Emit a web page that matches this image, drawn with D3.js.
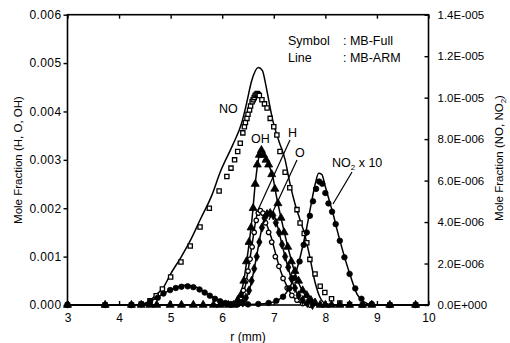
<!DOCTYPE html>
<html><head><meta charset="utf-8">
<script src="https://cdn.jsdelivr.net/npm/d3@7"></script>
<style>
body{margin:0;background:#fff}
svg text{font-family:Arial,"Liberation Sans",sans-serif;fill:#000}
</style>
</head><body>
<svg id="chart" width="510" height="343"></svg>
<script>
// ---- axes / ticks ----
const xTicks = [3,4,5,6,7,8,9,10];
const leftTicks = [0,0.001,0.002,0.003,0.004,0.005,0.006];
const leftTickLabels = ["0.000","0.001","0.002","0.003","0.004","0.005","0.006"];
const rightTicks = [0,2,4,6,8,10,12,14];            // in 1E-006 units
const rightTickLabels = ["0.0E+000","2.0E-006","4.0E-006","6.0E-006","8.0E-006","1.0E-005","1.2E-005","1.4E-005"];

// ---- MB-ARM lines ----  [r (mm), value]
// NO and NO2x10 in 1E-006 units (right axis); OH, H, O mole fraction (left axis)
const noLine = [[3,0],[4.4,0],[4.55,0.1],[4.7,0.45],[4.86,0.85],[5.0,1.5],[5.2,2.3],[5.4,3.2],[5.57,4.1],[5.8,5.3],[5.96,6.4],[6.2,7.7],[6.38,8.8],[6.47,9.7],[6.57,10.8],[6.7,11.45],[6.78,11.3],[6.83,10.8],[6.9,9.9],[6.98,8.9],[7.1,7.9],[7.22,7.0],[7.31,5.9],[7.42,4.8],[7.51,4.1],[7.61,3.3],[7.7,2.3],[7.8,1.1],[7.9,0.35],[8.0,0.08],[8.2,0],[10,0]];
const ohLine = [[3,0],[6.2,0],[6.3,0.0001],[6.4,0.0004],[6.5,0.0011],[6.58,0.0018],[6.64,0.0025],[6.7,0.003],[6.76,0.0032],[6.82,0.0031],[6.9,0.0029],[6.97,0.0027],[7.06,0.0022],[7.12,0.0019],[7.25,0.0013],[7.4,0.0007],[7.55,0.0003],[7.7,0.0001],[7.85,0],[10,0]];
const hLine = [[3,0],[6.25,0],[6.35,0.0001],[6.45,0.0004],[6.53,0.0009],[6.6,0.0014],[6.66,0.0018],[6.72,0.002],[6.78,0.0019],[6.85,0.0017],[6.95,0.0014],[7.05,0.001],[7.15,0.00065],[7.25,0.0004],[7.35,0.0002],[7.5,0.00006],[7.65,0],[10,0]];
const oLine = [[3,0],[6.35,0],[6.45,0.0001],[6.55,0.0004],[6.63,0.0008],[6.7,0.0012],[6.77,0.0016],[6.84,0.00185],[6.92,0.0019],[7.0,0.00185],[7.08,0.0016],[7.17,0.0012],[7.27,0.0008],[7.37,0.00045],[7.47,0.0002],[7.6,0.00005],[7.75,0],[10,0]];
const no2Line = [[3,0],[4.3,0],[4.5,0.08],[4.7,0.3],[4.9,0.6],[5.1,0.85],[5.28,0.95],[5.45,0.9],[5.6,0.72],[5.75,0.48],[5.9,0.25],[6.05,0.1],[6.2,0.04],[6.5,0.03],[6.8,0.06],[7.0,0.15],[7.15,0.35],[7.3,0.8],[7.42,1.5],[7.52,2.4],[7.62,3.5],[7.72,4.8],[7.8,5.8],[7.87,6.35],[7.93,6.3],[8.0,5.7],[8.08,5.0],[8.15,4.4],[8.23,3.6],[8.35,2.5],[8.5,1.3],[8.62,0.5],[8.75,0.15],[8.9,0.02],[9.1,0],[10,0]];

// ---- MB-Full symbols ----
const noSym = [[3.0,0],[3.73,0],[4.24,0],[4.43,0.05],[4.6,0.2],[4.72,0.45],[4.84,0.77],[5.0,1.35],[5.2,2.07],[5.38,2.85],[5.57,3.76],[5.75,4.67],[5.94,5.5],[6.09,6.2],[6.17,6.6],[6.24,7.0],[6.3,7.4],[6.35,7.8],[6.4,8.3],[6.43,8.6],[6.45,8.8],[6.48,9.0],[6.5,9.2],[6.53,9.4],[6.55,9.6],[6.58,9.8],[6.6,9.9],[6.62,10.0],[6.64,10.1],[6.66,10.15],[6.68,10.2],[6.7,10.15],[6.72,10.1],[6.77,9.9],[6.82,9.7],[6.87,9.5],[6.93,9.0],[7.0,8.6],[7.06,8.2],[7.12,7.4],[7.22,6.4],[7.31,5.65],[7.45,4.6],[7.51,3.95],[7.59,3.45],[7.64,3.0],[7.7,2.2],[7.8,1.5],[7.9,0.9],[7.99,0.6],[8.12,0.3],[8.28,0.1],[8.47,0.02],[8.72,0],[9.25,0],[9.75,0]];
const ohSym = [[3.0,0],[3.73,0],[4.24,0],[4.43,0],[4.6,0],[4.73,0],[4.99,0],[5.21,0],[5.44,0],[5.63,0],[5.83,0],[5.96,0],[6.12,0],[6.22,0],[6.3,0.0001],[6.36,0.0002],[6.42,0.0005],[6.47,0.0009],[6.52,0.0013],[6.56,0.0016],[6.6,0.002],[6.64,0.0025],[6.68,0.0029],[6.72,0.0031],[6.76,0.0032],[6.8,0.0031],[6.85,0.003],[6.9,0.0029],[6.96,0.0027],[7.02,0.0024],[7.08,0.0021],[7.14,0.0018],[7.2,0.0015],[7.27,0.0012],[7.34,0.0009],[7.41,0.0007],[7.48,0.0005],[7.56,0.0003],[7.64,0.0002],[7.72,0.0001],[7.8,0.00005],[7.9,0],[8.0,0],[8.12,0],[8.28,0],[8.47,0],[8.72,0],[8.9,0],[9.25,0],[9.75,0]];
const hSym = [[6.3,0.00005],[6.36,0.00015],[6.41,0.0003],[6.46,0.0005],[6.5,0.0007],[6.54,0.00095],[6.58,0.0012],[6.62,0.0015],[6.66,0.00175],[6.7,0.0019],[6.74,0.00195],[6.79,0.0019],[6.84,0.0017],[6.9,0.0015],[6.96,0.0013],[7.03,0.001],[7.1,0.0008],[7.18,0.00055],[7.26,0.00035],[7.35,0.0002],[7.45,0.0001],[7.56,0.00003],[7.7,0]];
const oSym = [[6.4,0.00005],[6.46,0.00015],[6.52,0.0003],[6.57,0.0005],[6.62,0.00075],[6.67,0.001],[6.72,0.0013],[6.77,0.0016],[6.82,0.0018],[6.87,0.00188],[6.93,0.0019],[6.99,0.00185],[7.04,0.0017],[7.1,0.0015],[7.16,0.00125],[7.22,0.001],[7.28,0.00078],[7.34,0.00055],[7.41,0.00035],[7.48,0.0002],[7.56,0.0001],[7.65,0.00004],[7.75,0]];
const no2Sym = [[3.0,0],[3.73,0],[4.24,0],[4.43,0.03],[4.6,0.15],[4.75,0.35],[4.86,0.55],[4.99,0.72],[5.1,0.82],[5.21,0.88],[5.33,0.9],[5.44,0.86],[5.56,0.75],[5.66,0.6],[5.76,0.45],[5.86,0.3],[5.96,0.18],[6.06,0.1],[6.17,0.05],[6.3,0.03],[6.5,0.03],[6.7,0.05],[6.9,0.1],[7.05,0.2],[7.18,0.4],[7.3,0.8],[7.4,1.3],[7.5,2.1],[7.58,2.9],[7.64,3.5],[7.7,4.3],[7.76,5.0],[7.82,5.6],[7.88,5.95],[7.94,5.85],[8.0,5.4],[8.06,4.9],[8.13,4.5],[8.2,3.9],[8.28,3.1],[8.37,2.3],[8.47,1.5],[8.58,0.8],[8.7,0.3],[8.9,0.05],[9.25,0],[9.75,0]];

// ---- drawing ----
const svg = d3.select("#chart");
const x = d3.scaleLinear().domain([3,10]).range([67.5,428.5]);
const yL = d3.scaleLinear().domain([0,0.006]).range([305,14.7]);
const yR = d3.scaleLinear().domain([0,14]).range([305,14.7]);

// frame
svg.append("rect").attr("x",x(3)).attr("y",yL(0.006)).attr("width",x(10)-x(3)).attr("height",yL(0)-yL(0.006))
  .attr("fill","none").attr("stroke","#000").attr("stroke-width",1.6);

const gL = svg.append("g").attr("transform",`translate(${x(3)},0)`)
  .call(d3.axisLeft(yL).tickValues(leftTicks).tickSize(4).tickFormat((d,i)=>leftTickLabels[i]).tickPadding(2));
const gR = svg.append("g").attr("transform",`translate(${x(10)},0)`)
  .call(d3.axisRight(yR).tickValues(rightTicks).tickSize(-4).tickFormat((d,i)=>rightTickLabels[i]).tickPadding(9));
const gB = svg.append("g").attr("transform",`translate(0,${yL(0)})`)
  .call(d3.axisBottom(x).tickValues(xTicks).tickSize(-4).tickFormat(d3.format("d")).tickPadding(8));
const gT = svg.append("g").attr("transform",`translate(0,${yL(0.006)})`)
  .call(d3.axisTop(x).tickValues(xTicks).tickSize(-4).tickFormat(""));
[gL,gR,gB,gT].forEach(g=>{
  g.select(".domain").remove();
  g.selectAll(".tick line").attr("stroke","#000").attr("stroke-width",1.4);
  g.selectAll("text").style("font-size","12px").attr("fill","#000").style("font-family","Arial, 'Liberation Sans', sans-serif");
});
gL.selectAll("text").style("letter-spacing","0.4px");
gR.selectAll("text").style("font-size","11.5px");

// lines
const lineL = d3.line().x(d=>x(d[0])).y(d=>yL(d[1])).curve(d3.curveMonotoneX);
const lineR = d3.line().x(d=>x(d[0])).y(d=>yR(d[1])).curve(d3.curveMonotoneX);
const lg = svg.append("g").attr("fill","none").attr("stroke","#000").attr("stroke-width",1.5);
lg.append("path").attr("d",lineR(noLine));
lg.append("path").attr("d",lineR(no2Line));
lg.append("path").attr("d",lineL(ohLine));
lg.append("path").attr("d",lineL(hLine));
lg.append("path").attr("d",lineL(oLine));

// symbols
const sg = svg.append("g");
function sym(data, ys, type, size, filled){
  sg.append("g").selectAll("path").data(data).join("path")
    .attr("transform",d=>`translate(${x(d[0])},${ys(d[1])})`)
    .attr("d",d3.symbol().type(type).size(size))
    .attr("fill",filled?"#000":"#fff").attr("stroke","#000").attr("stroke-width",filled?0.8:1.3);
}
sym(noSym, yR, d3.symbolSquare, 18, false);
sym(hSym, yL, d3.symbolCircle, 16, false);
sym(ohSym, yL, d3.symbolTriangle, 28, true);
sym(oSym, yL, d3.symbolDiamond, 24, true);
sym(no2Sym, yR, d3.symbolCircle, 24, true);

// axis titles
svg.append("text").attr("x",248).attr("y",341).attr("text-anchor","middle").style("font-size","12px").text("r (mm)");
svg.append("text").attr("transform","translate(21.5,160) rotate(-90)").attr("text-anchor","middle").style("font-size","11.5px").text("Mole Fraction (H, O, OH)");
const rt = svg.append("text").attr("transform","translate(503,158) rotate(-90)").attr("text-anchor","middle").style("font-size","11.5px");
rt.append("tspan").text("Mole Fraction (NO, NO");
rt.append("tspan").attr("dy",3).style("font-size","8px").text("2");
rt.append("tspan").attr("dy",-3).text(")");

// legend text
svg.append("text").attr("x",288).attr("y",45).style("font-size","12.5px").text("Symbol");
svg.append("text").attr("x",343).attr("y",45).style("font-size","12.5px").text(": MB-Full");
svg.append("text").attr("x",288).attr("y",62).style("font-size","12.5px").text("Line");
svg.append("text").attr("x",343).attr("y",62).style("font-size","12.5px").text(": MB-ARM");

// species labels
const lab = (t,xx,yy)=>svg.append("text").attr("x",xx).attr("y",yy).style("font-size","12.5px").text(t);
lab("NO",219,113);
lab("OH",251,143);
lab("H",288,137);
lab("O",295,157);
const n2 = svg.append("text").attr("x",332).attr("y",167).style("font-size","12.5px");
n2.append("tspan").text("NO");
n2.append("tspan").attr("dy",3).style("font-size","8px").text("2");
n2.append("tspan").attr("dy",-3).text(" x 10");

// leader lines
const lead = (x1,y1,x2,y2)=>svg.append("line").attr("x1",x1).attr("y1",y1).attr("x2",x2).attr("y2",y2).attr("stroke","#000").attr("stroke-width",1.2);
lead(290,140,258,210);
lead(297,160,269,220);
lead(352,172,333,204);
</script>
</body></html>
